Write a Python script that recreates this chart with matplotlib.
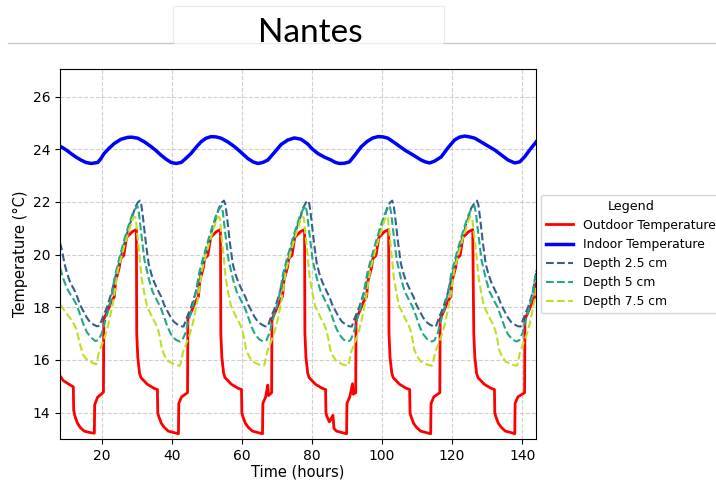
import numpy as np
import matplotlib
matplotlib.use('Agg')
import matplotlib.pyplot as plt
from matplotlib.patches import Rectangle
from matplotlib.lines import Line2D

# Outdoor temperature (hours, deg C)
outdoor_t = [8.1, 9.0, 11.0, 11.9, 12.0, 12.3, 13.0, 13.8, 15.0, 16.5, 17.9, 18.0, 18.8, 20.5, 20.6, 21.7, 22.7, 23.6, 24.0, 25.0, 25.4, 26.3, 27.1, 28.7, 29.9,
             30.0, 30.3, 30.8, 31.2, 33.0, 35.0, 35.9, 36.0, 36.3, 37.0, 37.8, 39.0, 40.5, 41.9, 42.0, 42.8, 44.5, 44.6, 45.7, 46.7, 47.6, 48.0, 49.0, 49.4, 50.3, 51.1, 52.7, 53.9,
             54.0, 54.3, 54.8, 55.2, 57.0, 59.0, 59.9, 60.0, 60.3, 61.0, 61.8, 63.0, 64.5, 65.9, 66.0, 66.8, 67.4, 67.6, 68.5, 68.6, 69.7, 70.7, 71.6, 72.0, 73.0, 73.4, 74.3, 75.1, 76.7, 77.9,
             78.0, 78.3, 78.8, 79.2, 81.0, 83.0, 83.9, 84.0, 84.3, 85.0, 86.0, 86.3, 87.0, 88.5, 89.9, 90.0, 90.8, 91.6, 91.8, 92.5, 92.6, 93.7, 94.7, 95.6, 96.0, 97.0, 97.4, 98.3, 99.1, 100.7, 101.9,
             102.0, 102.3, 102.8, 103.2, 105.0, 107.0, 107.9, 108.0, 108.3, 109.0, 109.8, 111.0, 112.5, 113.9, 114.0, 114.8, 116.5, 116.6, 117.7, 118.7, 119.6, 120.0, 121.0, 121.4, 122.3, 123.1, 124.7, 125.9,
             126.2, 126.5, 127.0, 127.4, 129.2, 131.2, 132.1, 132.2, 132.5, 133.2, 134.0, 135.2, 136.7, 137.9, 138.0, 138.8, 140.7, 140.8, 141.9, 142.9, 143.6, 144.0]
outdoor_temp = [15.4, 15.22, 15.05, 14.98, 14.1, 13.9, 13.62, 13.45, 13.3, 13.25, 13.22, 14.3, 14.58, 14.78, 17.55, 17.87, 18.2, 18.4, 19.0, 19.5, 19.85, 19.97, 20.65, 20.87, 20.95,
                17.0, 16.1, 15.5, 15.33, 15.08, 14.92, 14.88, 14.0, 13.85, 13.6, 13.45, 13.3, 13.25, 13.2, 14.35, 14.6, 14.76, 17.55, 17.87, 18.2, 18.4, 19.0, 19.5, 19.85, 19.97, 20.65, 20.87, 20.95,
                17.0, 16.1, 15.5, 15.33, 15.08, 14.92, 14.88, 14.0, 13.85, 13.6, 13.45, 13.3, 13.25, 13.2, 14.35, 14.6, 15.05, 14.65, 14.76, 17.55, 17.87, 18.2, 18.4, 19.0, 19.5, 19.85, 19.97, 20.65, 20.87, 20.95,
                17.0, 16.1, 15.5, 15.33, 15.08, 14.92, 14.88, 14.0, 13.85, 13.65, 13.9, 13.4, 13.3, 13.25, 13.2, 14.35, 14.6, 15.1, 14.7, 14.76, 17.55, 17.87, 18.2, 18.4, 19.0, 19.5, 19.85, 19.97, 20.65, 20.87, 20.95,
                17.0, 16.1, 15.5, 15.33, 15.08, 14.92, 14.88, 14.0, 13.85, 13.6, 13.45, 13.3, 13.25, 13.2, 14.35, 14.6, 14.76, 17.55, 17.87, 18.2, 18.4, 19.0, 19.5, 19.85, 19.97, 20.65, 20.87, 20.95,
                17.0, 16.1, 15.5, 15.33, 15.08, 14.92, 14.88, 14.0, 13.85, 13.6, 13.45, 13.3, 13.25, 13.2, 14.35, 14.6, 14.76, 17.55, 17.87, 18.2, 18.4, 18.9]

# Indoor temperature
indoor_t = [8.1, 9.8, 11.2, 12.7, 14.1, 15.5, 17.0, 18.9, 19.8, 20.7, 22.2, 23.6, 25.5, 27.4, 28.5, 30.3, 32.2, 34.1, 35.5, 36.9, 38.4, 39.8, 41.2, 42.7,
            44.0, 45.5, 46.9, 48.4, 49.8, 51.2, 52.6, 54.1, 56.0, 57.9, 59.8, 61.7, 63.2, 64.6, 66.0, 67.4, 69.3, 71.2, 73.1, 75.0, 76.9, 78.8, 80.2, 81.7,
            83.6, 85.5, 86.7, 87.9, 89.3, 90.7, 92.4, 94.1, 95.8, 97.4, 98.9, 100.3, 101.7, 104.1, 106.5, 108.9, 111.2, 112.4, 113.6, 115.0, 116.9, 118.8,
            120.7, 122.1, 123.6, 125.0, 126.5, 129.3, 132.2, 134.1, 136.0, 137.9, 139.3, 140.7, 142.2, 144.0]
indoor_temp = [24.12, 23.98, 23.84, 23.7, 23.59, 23.5, 23.46, 23.5, 23.65, 23.84, 24.05, 24.22, 24.38, 24.45, 24.46, 24.42, 24.28, 24.1, 23.95, 23.78, 23.62, 23.5, 23.46, 23.5,
               23.65, 23.84, 24.07, 24.29, 24.42, 24.48, 24.47, 24.42, 24.28, 24.1, 23.88, 23.65, 23.52, 23.46, 23.5, 23.59, 23.88, 24.18, 24.35, 24.43, 24.38, 24.2, 24.0, 23.84,
               23.7, 23.59, 23.5, 23.46, 23.47, 23.52, 23.8, 24.1, 24.3, 24.43, 24.48, 24.47, 24.42, 24.2, 23.97, 23.78, 23.59, 23.52, 23.48, 23.55, 23.71, 24.05,
               24.35, 24.46, 24.5, 24.47, 24.42, 24.2, 23.97, 23.78, 23.59, 23.48, 23.52, 23.71, 23.98, 24.28]

# Depth 2.5 cm
d25_t = [8.1, 8.6, 9.4, 10.2, 11.0, 12.4, 13.0, 13.8, 14.6, 15.7, 16.6, 17.6, 18.6, 19.4, 20.1, 21.5, 22.8, 23.8, 25.0, 26.5, 27.9, 28.8, 29.4,
         30.3, 30.9, 31.3, 31.7, 32.6, 33.4, 34.2, 35.0, 36.4, 37.0, 37.8, 38.6, 39.7, 40.6, 41.6, 42.6, 43.4, 44.1, 45.5, 46.8, 47.8, 49.0, 50.5, 51.9, 52.8, 53.4,
         54.3, 54.9, 55.3, 55.7, 56.6, 57.4, 58.2, 59.0, 60.4, 61.0, 61.8, 62.6, 63.7, 64.6, 65.6, 66.6, 67.4, 68.1, 69.5, 70.8, 71.8, 73.0, 74.5, 75.9, 76.8, 77.4,
         78.3, 78.9, 79.3, 79.7, 80.6, 81.4, 82.2, 83.0, 84.4, 85.0, 85.8, 86.6, 87.7, 88.6, 89.6, 90.6, 91.4, 92.1, 93.5, 94.8, 95.8, 97.0, 98.5, 99.9, 100.8, 101.4,
         102.3, 102.9, 103.3, 103.7, 104.6, 105.4, 106.2, 107.0, 108.4, 109.0, 109.8, 110.6, 111.7, 112.6, 113.6, 114.6, 115.4, 116.1, 117.5, 118.8, 119.8, 121.0, 122.5, 123.9, 124.8, 125.4,
         126.5, 127.1, 127.5, 127.9, 128.8, 129.6, 130.4, 131.2, 132.6, 133.2, 134.0, 134.8, 135.9, 136.8, 137.8, 138.8, 139.6, 140.3, 141.7, 143.0, 144.0]
d25_temp = [20.45, 20.2, 19.65, 19.25, 18.95, 18.6, 18.4, 18.1, 17.9, 17.62, 17.45, 17.35, 17.28, 17.3, 17.55, 18.0, 18.55, 19.1, 19.7, 20.45, 21.1, 21.45, 21.75,
            21.98, 22.05, 21.9, 21.5, 20.45, 19.65, 19.25, 18.95, 18.55, 18.4, 18.1, 17.9, 17.62, 17.45, 17.35, 17.28, 17.27, 17.55, 18.0, 18.55, 19.1, 19.7, 20.45, 21.1, 21.45, 21.75,
            21.98, 22.05, 21.9, 21.5, 20.45, 19.65, 19.25, 18.95, 18.55, 18.4, 18.1, 17.9, 17.62, 17.45, 17.35, 17.28, 17.27, 17.55, 18.0, 18.55, 19.1, 19.7, 20.45, 21.1, 21.45, 21.75,
            21.98, 22.05, 21.9, 21.5, 20.45, 19.65, 19.25, 18.95, 18.55, 18.4, 18.1, 17.9, 17.62, 17.45, 17.35, 17.28, 17.27, 17.55, 18.0, 18.55, 19.1, 19.7, 20.45, 21.1, 21.45, 21.75,
            21.98, 22.05, 21.9, 21.5, 20.45, 19.65, 19.25, 18.95, 18.55, 18.4, 18.1, 17.9, 17.62, 17.45, 17.35, 17.28, 17.27, 17.55, 18.0, 18.55, 19.1, 19.7, 20.45, 21.1, 21.45, 21.75,
            21.98, 22.05, 21.9, 21.5, 20.45, 19.65, 19.25, 18.95, 18.55, 18.4, 18.1, 17.9, 17.62, 17.45, 17.35, 17.28, 17.27, 17.55, 18.0, 18.55, 19.3]

# Depth 5 cm
d5_t = [8.1, 9.0, 10.0, 11.0, 12.0, 12.8, 13.9, 14.8, 15.8, 17.0, 18.2, 19.0, 20.0, 20.6, 21.9, 22.7, 23.8, 25.0, 26.5, 27.9, 28.8, 29.4,
        30.2, 30.6, 31.2, 32.2, 33.5, 34.5, 36.0, 36.8, 37.9, 38.8, 39.8, 41.0, 42.2, 43.0, 44.0, 44.6, 45.9, 46.7, 47.8, 49.0, 50.5, 51.9, 52.8, 53.4,
        54.2, 54.6, 55.2, 56.2, 57.5, 58.5, 60.0, 60.8, 61.9, 62.8, 63.8, 65.0, 66.2, 67.0, 68.0, 68.6, 69.9, 70.7, 71.8, 73.0, 74.5, 75.9, 76.8, 77.4,
        78.2, 78.6, 79.2, 80.2, 81.5, 82.5, 84.0, 84.8, 85.9, 86.8, 87.8, 89.0, 90.2, 91.0, 92.0, 92.6, 93.9, 94.7, 95.8, 97.0, 98.5, 99.9, 100.8, 101.4,
        102.2, 102.6, 103.2, 104.2, 105.5, 106.5, 108.0, 108.8, 109.9, 110.8, 111.8, 113.0, 114.2, 115.0, 116.0, 116.6, 117.9, 118.7, 119.8, 121.0, 122.5, 123.9, 124.8, 125.4,
        126.4, 126.8, 127.4, 128.4, 129.7, 130.7, 132.2, 133.0, 134.1, 135.0, 136.0, 137.2, 138.4, 139.2, 140.2, 140.8, 142.1, 142.9, 144.0]
d5_temp = [19.5, 19.1, 18.75, 18.5, 18.3, 18.1, 17.7, 17.35, 17.05, 16.85, 16.72, 16.75, 17.0, 17.3, 17.9, 18.35, 19.2, 19.85, 20.6, 21.2, 21.55, 21.7,
           21.85, 21.6, 20.9, 19.8, 19.05, 18.6, 18.2, 18.0, 17.6, 17.25, 16.97, 16.78, 16.7, 16.75, 17.05, 17.4, 18.0, 18.45, 19.3, 19.9, 20.6, 21.2, 21.55, 21.7,
           21.85, 21.6, 20.9, 19.8, 19.05, 18.6, 18.2, 18.0, 17.6, 17.25, 16.97, 16.78, 16.7, 16.75, 17.05, 17.4, 18.0, 18.45, 19.3, 19.9, 20.6, 21.2, 21.55, 21.7,
           21.85, 21.6, 20.9, 19.8, 19.05, 18.6, 18.2, 18.0, 17.6, 17.25, 16.97, 16.78, 16.7, 16.75, 17.05, 17.4, 18.0, 18.45, 19.3, 19.9, 20.6, 21.2, 21.55, 21.7,
           21.85, 21.6, 20.9, 19.8, 19.05, 18.6, 18.2, 18.0, 17.6, 17.25, 16.97, 16.78, 16.7, 16.75, 17.05, 17.4, 18.0, 18.45, 19.3, 19.9, 20.6, 21.2, 21.55, 21.7,
           21.85, 21.6, 20.9, 19.8, 19.05, 18.6, 18.2, 18.0, 17.6, 17.25, 16.97, 16.78, 16.7, 16.75, 17.05, 17.4, 18.0, 18.45, 19.4]

# Depth 7.5 cm
d75_t = [8.1, 9.0, 10.3, 11.2, 12.1, 12.7, 13.2, 13.6, 14.6, 15.5, 16.5, 17.5, 18.4, 18.6, 19.3, 20.3, 21.2, 22.0, 22.8, 23.4, 24.6, 26.5, 27.9, 28.7, 29.2, 29.7,
         30.5, 31.4, 32.2, 32.9, 33.6, 34.5, 35.5, 36.1, 36.7, 37.2, 38.0, 39.0, 41.0, 42.2, 42.5, 43.2, 44.2, 45.2, 46.0, 46.8, 47.4, 48.6, 50.5, 51.9, 52.7, 53.2, 53.7,
         54.5, 55.4, 56.2, 56.9, 57.6, 58.5, 59.5, 60.1, 60.7, 61.2, 62.0, 63.0, 65.0, 66.2, 66.5, 67.2, 68.2, 69.2, 70.0, 70.8, 71.4, 72.6, 74.5, 75.9, 76.7, 77.2, 77.7,
         78.5, 79.4, 80.2, 80.9, 81.6, 82.5, 83.5, 84.1, 84.7, 85.2, 86.0, 87.0, 89.0, 90.2, 90.5, 91.2, 92.2, 93.2, 94.0, 94.8, 95.4, 96.6, 98.5, 99.9, 100.7, 101.2, 101.7,
         102.5, 103.4, 104.2, 104.9, 105.6, 106.5, 107.5, 108.1, 108.7, 109.2, 110.0, 111.0, 113.0, 114.2, 114.5, 115.2, 116.2, 117.2, 118.0, 118.8, 119.4, 120.6, 122.5, 123.9, 124.7, 125.2, 125.7,
         126.7, 127.6, 128.4, 129.1, 129.8, 130.7, 131.7, 132.3, 132.9, 133.4, 134.2, 135.2, 137.2, 138.4, 138.7, 139.4, 140.4, 141.4, 142.2, 143.0, 143.6, 144.0]
d75_temp = [18.1, 17.95, 17.7, 17.56, 17.35, 17.2, 16.95, 16.7, 16.22, 16.05, 15.97, 15.88, 15.84, 15.9, 16.35, 16.67, 17.0, 17.4, 17.9, 18.3, 19.4, 20.35, 20.95, 21.3, 21.45, 21.4,
            20.3, 19.1, 18.5, 18.05, 17.85, 17.6, 17.35, 17.15, 16.8, 16.4, 16.15, 15.95, 15.82, 15.78, 15.85, 16.3, 16.65, 17.0, 17.4, 17.9, 18.3, 19.4, 20.35, 20.95, 21.3, 21.45, 21.4,
            20.3, 19.1, 18.5, 18.05, 17.85, 17.6, 17.35, 17.15, 16.8, 16.4, 16.15, 15.95, 15.82, 15.78, 15.85, 16.3, 16.65, 17.0, 17.4, 17.9, 18.3, 19.4, 20.35, 20.95, 21.3, 21.45, 21.4,
            20.3, 19.1, 18.5, 18.05, 17.85, 17.6, 17.35, 17.15, 16.8, 16.4, 16.15, 15.95, 15.82, 15.78, 15.85, 16.3, 16.65, 17.0, 17.4, 17.9, 18.3, 19.4, 20.35, 20.95, 21.3, 21.45, 21.4,
            20.3, 19.1, 18.5, 18.05, 17.85, 17.6, 17.35, 17.15, 16.8, 16.4, 16.15, 15.95, 15.82, 15.78, 15.85, 16.3, 16.65, 17.0, 17.4, 17.9, 18.3, 19.4, 20.35, 20.95, 21.3, 21.45, 21.4,
            20.3, 19.1, 18.5, 18.05, 17.85, 17.6, 17.35, 17.15, 16.8, 16.4, 16.15, 15.95, 15.82, 15.78, 15.85, 16.3, 16.65, 17.0, 17.4, 17.9, 18.3, 18.8]

title = 'Nantes'
depth_labels = ['Depth 2.5 cm', 'Depth 5 cm', 'Depth 7.5 cm']

fig = plt.figure(figsize=(7.16, 4.8), dpi=100)
ax = fig.add_axes([0.0838, 0.0854, 0.665, 0.771])

ax.plot(outdoor_t, outdoor_temp, color='red', lw=2.0, label='Outdoor Temperature')
ax.plot(indoor_t, indoor_temp, color='blue', lw=2.5, label='Indoor Temperature')

depth_colors = plt.cm.viridis(np.linspace(0.3, 0.9, 3))
for (t, temp), lab, c in zip([(d25_t, d25_temp), (d5_t, d5_temp), (d75_t, d75_temp)], depth_labels, depth_colors):
    ax.plot(t, temp, '--', color=c, lw=1.5, label=lab)

ax.set_xlim(8.1, 144)
ax.set_ylim(13.0, 27.05)
ax.set_xticks(range(20, 141, 20))
ax.set_yticks(range(14, 27, 2))
ax.grid(True, linestyle='--', alpha=0.6)
ax.set_xlabel('Time (hours)', fontsize=10.5, labelpad=1.5)
ax.set_ylabel('Temperature (°C)', fontsize=10.5, labelpad=3)
ax.tick_params(labelsize=10)

# legend sits outside the axes; its frame runs past the right edge like the original slide
ax.legend(title='Legend', loc='center left', bbox_to_anchor=(1.01, 0.5), borderaxespad=0,
          fontsize=8.9, title_fontsize=9.2, handlelength=2.2)

# slide-style title box
fig.add_artist(Line2D([8 / 716, 173 / 716], [1 - 43 / 480] * 2, color='#c8c8c8', lw=1))
fig.add_artist(Line2D([444 / 716, 1.0], [1 - 43 / 480] * 2, color='#c8c8c8', lw=1))
fig.add_artist(Rectangle((173 / 716, 1 - 43 / 480), 271 / 716, 37 / 480, transform=fig.transFigure,
                         facecolor='white', edgecolor='#ececec', lw=0.8))
fig.text(310 / 716, 1 - 41.5 / 480, title, ha='center', va='baseline', fontsize=24, family='Lato')

fig.savefig('out.png', dpi=100)
